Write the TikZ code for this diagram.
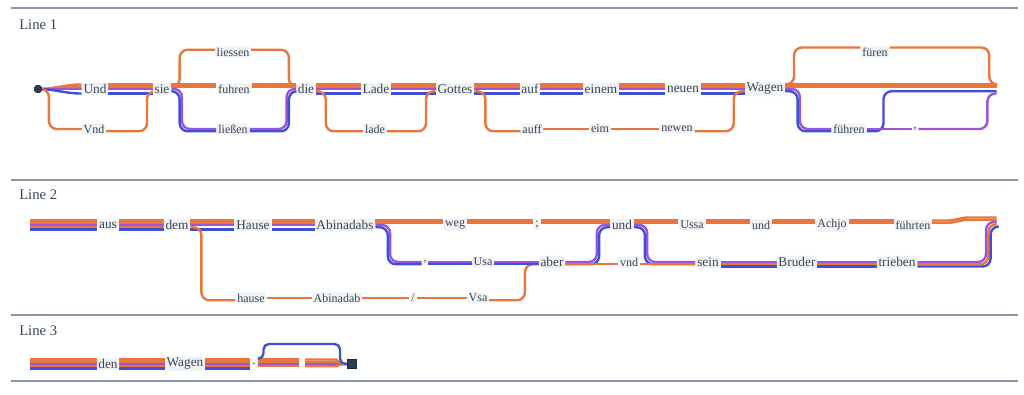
\documentclass[tikz,border=0pt]{standalone}
\usepackage{fontspec}
\setmainfont{Liberation Serif}
\usetikzlibrary{backgrounds}
\definecolor{worange}{HTML}{E8763D}
\definecolor{wpurple}{HTML}{9A55D8}
\definecolor{wblue}{HTML}{3F50D6}
\definecolor{wtext}{HTML}{3A4656}
\definecolor{wbg}{HTML}{F1F2F4}
\definecolor{wrule}{HTML}{8896A8}
\definecolor{wdark}{HTML}{2E3D4F}
\tikzset{
  strand/.style={line width=1.8pt, rounded corners=6pt},
  wo/.style={strand, draw=worange},
  wp/.style={strand, draw=wpurple},
  wb/.style={strand, draw=wblue},
  word/.style={fill=wbg, text=wtext, rounded corners=2pt, inner xsep=1.2pt, inner ysep=1pt, font=\fontsize{10}{12}\selectfont},
  var/.style={word, font=\fontsize{9}{11}\selectfont},
  endpt/.style={inner sep=0pt, minimum size=0pt},
  rule/.style={draw=wrule, line width=1.1pt},
  linetitle/.style={text=wtext, font=\fontsize{11}{13}\selectfont, anchor=west, inner sep=0pt},
}
\def\five{wo/3.4pt,wo/1.7pt,wp/0pt,wo/-1.7pt,wb/-3.4pt}
\def\four{wo/3.4pt,wo/1.7pt,wp/0pt,wb/-3.4pt}
\def\twoO{wo/3.4pt,wo/1.7pt}
\def\pb{wp/0pt,wb/-1.7pt}
\def\three{wp/0pt,wo/-1.7pt,wb/-3.4pt}
% straight strands
\newcommand\strline[3]{\foreach \ws/\wy in #1 \draw[\ws] ([yshift=\wy]#2.east) -- ([yshift=\wy]#3.west);}
% down / up, vertical near the source (A) or near the target (B)
\newcommand\dnA[4]{\foreach \ws/\wy in #1 \draw[\ws] ([yshift=\wy]#2.east) -- ([xshift={#4+\wy},yshift=\wy]#2.east) |- ([yshift=\wy]#3.west);}
\newcommand\dnB[4]{\foreach \ws/\wy in #1 \draw[\ws] ([yshift=\wy]#2.east) -| ([xshift={-#4+\wy},yshift=\wy]#3.west) -- ([yshift=\wy]#3.west);}
\newcommand\upA[4]{\foreach \ws/\wy in #1 \draw[\ws] ([yshift=\wy]#2.east) -- ([xshift={#4-(\wy)},yshift=\wy]#2.east) |- ([yshift=\wy]#3.west);}
\newcommand\upB[4]{\foreach \ws/\wy in #1 \draw[\ws] ([yshift=\wy]#2.east) -| ([xshift={-#4-(\wy)},yshift=\wy]#3.west) -- ([yshift=\wy]#3.west);}
\begin{document}
\begin{tikzpicture}[x=0.75pt,y=-0.75pt]
\useasboundingbox (0,0) rectangle (1024,395);
\draw[rule] (11,8) -- (1018,8);
\draw[rule] (11,180) -- (1018,180);
\draw[rule] (11,315) -- (1018,315);
\draw[rule] (11,381) -- (1018,381);
\node[linetitle] at (19,25) {Line 1};
\node[linetitle] at (19,195) {Line 2};
\node[linetitle] at (19,331) {Line 3};

% line 1
\node[circle, fill=wdark, draw=wdark!70!black, minimum size=6pt, inner sep=0pt] (s1) at (38,89) {};
\node[word] (und) at (95,89) {Und};
\node[var] (vnd) at (94,129) {Vnd};
\node[word] (sie) at (162,89) {sie};
\node[var] (liessen) at (233,52) {liessen};
\node[var] (fuhren) at (234,89) {fuhren};
\node[var] (liesz) at (233,129) {ließen};
\node[word] (die) at (306,89) {die};
\node[word] (lade) at (376,89) {Lade};
\node[var] (lade-v) at (375,129) {lade};
\node[word] (gottes) at (455,89) {Gottes};
\node[word] (auf) at (530,89) {auf};
\node[var] (auf-v) at (532,129) {auff};
\node[word] (einem) at (601,89) {einem};
\node[var] (einem-v) at (600,129) {eim};
\node[word] (neuen) at (683,89) {neuen};
\node[var] (neuen-v) at (677,129) {newen};
\node[word] (wagen) at (765,89) {Wagen};
\node[var] (fuhren-o) at (875,52) {füren};
\node[var] (fuhren-u) at (849,129) {führen};
\node[var] (comma1) at (915,129) {,};
\node[endpt] (e1) at (997,89) {};

% line 2
\node[endpt] (b2) at (30,225) {};
\node[word] (aus) at (108,225) {aus};
\node[word] (dem) at (177,225) {dem};
\node[word] (hause) at (253,225) {Hause};
\node[var] (hause-v) at (251,298) {hause};
\node[word] (abin) at (345,225) {Abinadabs};
\node[var] (abin-v) at (337,298) {Abinadab};
\node[var] (slash) at (413,298) {/};
\node[var] (vsa) at (478,298) {Vsa};
\node[var] (weg) at (455,225) {weg};
\node[var] (semi) at (537,225) {;};
\node[word] (und2) at (622,225) {und};
\node[var] (comma2) at (425,262) {,};
\node[var] (usa) at (483,262) {Usa};
\node[word] (aber) at (552,262) {aber};
\node[var] (vnd2) at (629,262) {vnd};
\node[var] (ussa) at (692,225) {Ussa};
\node[var] (und3) at (761,225) {und};
\node[var] (achjo) at (832,225) {Achjo};
\node[var] (fuhrten) at (913,225) {führten};
\node[word] (sein) at (708,262) {sein};
\node[word] (bruder) at (797,262) {Bruder};
\node[word] (trieben) at (897,262) {trieben};
\node[endpt] (e2) at (997,222) {};

% line 3
\node[endpt] (b3) at (30,364) {};
\node[word] (den) at (108,364) {den};
\node[word] (wagen3) at (185,364) {Wagen};
\node[word] (p3) at (254,364) {.};
\node[endpt, minimum width=4pt] (g3) at (302,364) {};
\node[fill=wdark, draw=wdark!70!black, minimum size=7pt, inner sep=0pt] (fin) at (352,364) {};
\coordinate (arc3) at (340,344);

\begin{pgfonlayer}{background}
\foreach \ws/\wy in \four \draw[\ws] (s1.center) to[out=0,in=180] ([yshift=\wy]und.west);
\dnA{{wo/0pt}}{s1}{vnd}{5pt}
\strline{\four}{und}{sie}
\upB{{wo/-1.7pt}}{vnd}{sie}{6pt}
\upA{{wo/1.7pt}}{sie}{liessen}{8pt}
\strline{\twoO}{sie}{fuhren}
\dnA{\pb}{sie}{liesz}{8pt}
\dnB{{wo/1.7pt}}{liessen}{die}{7pt}
\strline{\twoO}{fuhren}{die}
\upB{\pb}{liesz}{die}{7pt}
\strline{\four}{die}{lade}
\dnA{{wo/-1.7pt}}{die}{lade-v}{9pt}
\strline{\four}{lade}{gottes}
\upB{{wo/-1.7pt}}{lade-v}{gottes}{9pt}
\strline{\four}{gottes}{auf}
\dnA{{wo/-1.7pt}}{gottes}{auf-v}{10pt}
\strline{\four}{auf}{einem}
\strline{\four}{einem}{neuen}
\strline{{wo/0pt}}{auf-v}{einem-v}
\strline{{wo/0pt}}{einem-v}{neuen-v}
\strline{\four}{neuen}{wagen}
\upB{{wo/-1.7pt}}{neuen-v}{wagen}{10pt}
\upA{{wo/3.4pt}}{wagen}{fuhren-o}{10pt}
\dnA{\pb}{wagen}{fuhren-u}{11pt}
\strline{\twoO}{wagen}{e1}
\dnB{{wo/3.4pt}}{fuhren-o}{e1}{9pt}
\upA{{wb/-1.7pt}}{fuhren-u}{e1}{11pt}
\strline{{wp/0pt}}{fuhren-u}{comma1}
\draw[wp] (comma1.east) -| ([xshift=-7pt,yshift=-3.4pt]e1.west) -- ([yshift=-3.4pt]e1.west);

\strline{\five}{b2}{aus}
\strline{\five}{aus}{dem}
\strline{\four}{dem}{hause}
\dnA{{wo/-1.7pt}}{dem}{hause-v}{10pt}
\strline{\four}{hause}{abin}
\strline{{wo/0pt}}{hause-v}{abin-v}
\strline{\twoO}{abin}{weg}
\dnA{\pb}{abin}{comma2}{11pt}
\strline{{wo/0pt}}{abin-v}{slash}
\strline{{wo/0pt}}{slash}{vsa}
\upB{{wo/-1.7pt}}{vsa}{aber}{12pt}
\strline{\pb}{comma2}{usa}
\strline{\pb}{usa}{aber}
\strline{\twoO}{weg}{semi}
\strline{\twoO}{semi}{und2}
\upB{\pb}{aber}{und2}{10pt}
\strline{{wo/-1.7pt}}{aber}{vnd2}
\strline{\twoO}{und2}{ussa}
\dnA{\pb}{und2}{sein}{10pt}
\strline{{wo/-1.7pt}}{vnd2}{sein}
\strline{\twoO}{ussa}{und3}
\strline{\twoO}{und3}{achjo}
\strline{\twoO}{achjo}{fuhrten}
\strline{\three}{sein}{bruder}
\strline{\three}{bruder}{trieben}
\foreach \ws/\wy in \twoO \draw[\ws, sharp corners] ([yshift=\wy]fuhrten.east) -- ++(16,0) to[out=0,in=180] ++(20,-3) -- ([yshift=\wy]e2.west);
\upB{\three}{trieben}{e2}{8pt}

\strline{\five}{b3}{den}
\strline{\five}{den}{wagen3}
\strline{\five}{wagen3}{p3}
\strline{{wo/3.4pt,wo/1.7pt,wp/0pt,wo/-1.7pt}}{p3}{g3}
\foreach \ws/\wy in {wo/3.4pt,wo/1.7pt,wp/0pt,wo/-1.7pt} \draw[\ws] ([yshift=\wy]g3.east) -- ([xshift=-14pt,yshift=\wy]fin.west) to[out=0,in=180] (fin.west);
\draw[wb, rounded corners=4pt] ([yshift=4pt]p3.east) -- ++(6,0) |- (arc3) |- (fin.west);
\end{pgfonlayer}
\end{tikzpicture}
\end{document}
